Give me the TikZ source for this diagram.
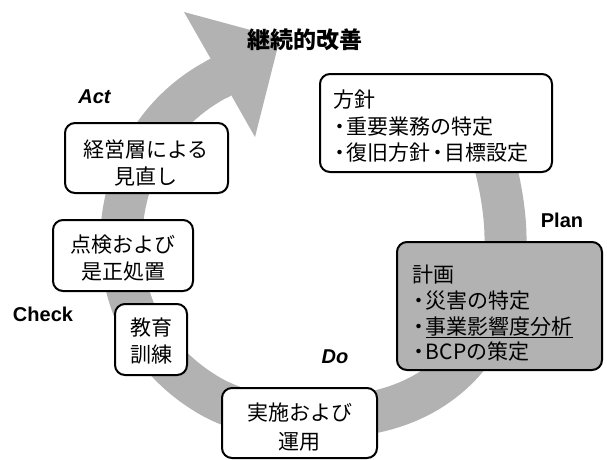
\documentclass[tikz,border=0pt]{standalone}
\usepackage{fontspec}
\setmainfont{Noto Sans CJK JP}
\newfontfamily\latfont{Liberation Sans}
\definecolor{bandgray}{RGB}{178,178,178}
\newcommand\dt{\makebox[0.65em][c]{・}}
\newcommand\myul[1]{\setbox0\hbox{#1}\rlap{\rule[-0.2em]{\wd0}{1.6pt}}\box0}
\tikzset{
  box/.style={draw=black, line width=2pt, rounded corners=10pt, fill=white, inner sep=0pt},
  jp/.style={font=\fontsize{21}{27}\selectfont, inner sep=0pt, align=center},
  lab/.style={font=\latfont\bfseries\fontsize{20}{24}\selectfont, inner sep=0pt},
  labi/.style={font=\latfont\bfseries\itshape\fontsize{20}{24}\selectfont, inner sep=0pt},
  band/.style={draw=bandgray, line width=42pt},
}
\begin{document}
\begin{tikzpicture}[x=1pt,y=-1pt]
\useasboundingbox (0,0) rectangle (607,459);
\fill[white] (0,0) rectangle (607,459);
% spiral band
\coordinate (b0) at (485,130);
\coordinate (b1) at (505,255);
\coordinate (b2) at (390,408);
\coordinate (b3) at (210,396);
\coordinate (b4) at (122,260);
\coordinate (b5) at (221,77);
\draw[band] (b0) .. controls (498,170) and (508,215) .. (b1)
  .. controls (500,340) and (450,390) .. (b2)
  .. controls (340,423) and (260,425) .. (b3)
  .. controls (160,367) and (128,320) .. (b4)
  .. controls (116,200) and (140,118) .. (b5);
\fill[bandgray] (205.5,61.6) -- (210.7,58.7) -- (184,12) -- (280,38) -- (255,137) -- (231.3,95.3) -- (226.1,98.2) -- cycle;
% title
\node[jp, font=\bfseries\fontsize{23}{23}\selectfont] (kaizen) at (305,40) {継続的改善};
% boxes
\node[box, minimum width=163pt, minimum height=70pt] (keiei) at (146.5,158) {};
\node[jp] (keieit) at (146,163) {経営層による\\見直し};
\node[box, minimum width=140pt, minimum height=71pt] (tenken) at (123,255.5) {};
\node[jp] (tenkent) at (123,258.5) {点検および\\是正処置};
\node[box, minimum width=72pt, minimum height=71pt] (kyoiku) at (151,339.5) {};
\node[jp] (kyoikut) at (151,341.5) {教育\\訓練};
\node[box, minimum width=155pt, minimum height=70pt] (jisshi) at (299.5,423) {};
\node[jp, font=\fontsize{21}{29}\selectfont] (jisshit) at (299.5,427.5) {実施および\\運用};
\node[box, minimum width=232pt, minimum height=98pt] (hoshin) at (436,123) {};
\node[jp, align=left, anchor=west, font=\fontsize{21}{26.5}\selectfont] (hoshint) at (333,126.5) {方針\\\dt 重要業務の特定\\\dt 復旧方針\dt 目標設定};
\node[box, fill=bandgray, minimum width=205pt, minimum height=128pt] (keikaku) at (499.5,306) {};
\node[jp, align=left, anchor=west, font=\fontsize{21}{25.7}\selectfont] (keikakut) at (412,313.5) {計画\\\dt 災害の特定\\\dt \myul{事業影響度分析}\\\dt BCPの策定};
% phase labels
\node[labi] (act) at (94.5,97) {Act};
\node[lab] (check) at (43,314) {Check};
\node[lab] (plan) at (562,220) {Plan};
\node[labi] (do) at (335,357) {Do};
\end{tikzpicture}
\end{document}
